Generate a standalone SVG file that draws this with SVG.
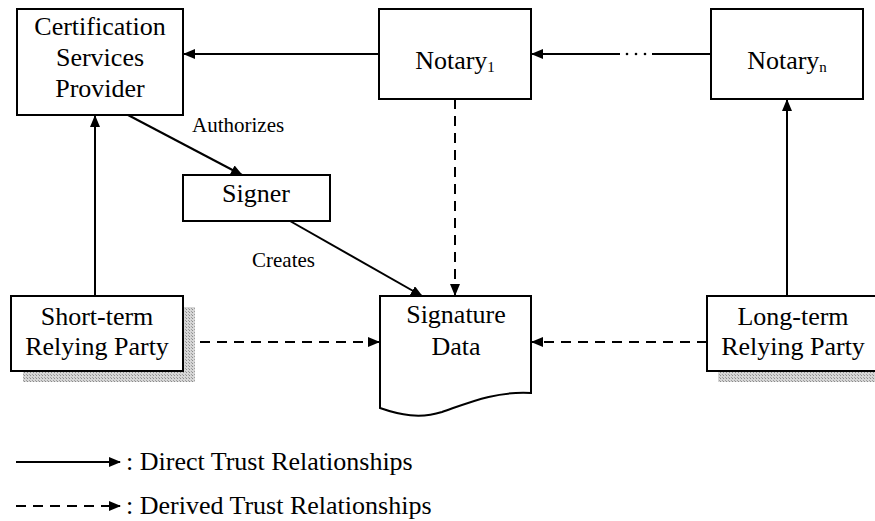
<svg xmlns="http://www.w3.org/2000/svg" width="875" height="521" viewBox="0 0 875 521" font-family="'Liberation Serif','Times New Roman',serif">
<style>
.box{fill:#fff;stroke:#000;stroke-width:2}
.nt{font-family:"Liberation Serif","Times New Roman",serif;font-size:26px;fill:#000;text-anchor:middle}
.lbl{font-family:"Liberation Serif","Times New Roman",serif;font-size:21px;fill:#000}
.leg{font-family:"Liberation Serif","Times New Roman",serif;font-size:26px;fill:#000}
.sub{font-size:15px}
.c{fill:none;stroke:#000;stroke-width:2}
.d{stroke-dasharray:10 7}
.shadow{fill:url(#half)}
</style>
<defs>
<marker id="ah" markerWidth="12" markerHeight="10" refX="11" refY="5" orient="auto" markerUnits="userSpaceOnUse"><path d="M0,0 L12,5 L0,10 z" fill="#000"/></marker>
<pattern id="half" width="3" height="3" patternUnits="userSpaceOnUse"><rect width="3" height="3" fill="#d6d6d6"/><rect width="1" height="1" fill="#8a8a8a"/><rect x="2" y="2" width="1" height="1" fill="#a0a0a0"/></pattern>
</defs>
<rect width="875" height="521" fill="#fff"/>
<g id="connectors">
<path class="c" d="M379,54 H184" marker-end="url(#ah)"/>
<path class="c" d="M711,54 H652 M620,54 H532" marker-end="url(#ah)"/>
<circle cx="627" cy="54" r="1.3"/><circle cx="636" cy="54" r="1.3"/><circle cx="645" cy="54" r="1.3"/>
<path class="c" d="M95,296 V116" marker-end="url(#ah)"/>
<path class="c" d="M787,296 V100" marker-end="url(#ah)"/>
<path class="c" d="M128,115 L242,175" marker-end="url(#ah)"/>
<path class="c" d="M290,221 L422,296" marker-end="url(#ah)"/>
<path class="c d" d="M455,99 V295" marker-end="url(#ah)"/>
<path class="c d" d="M183,342 H379" marker-end="url(#ah)"/>
<path class="c d" d="M707,342 H532" marker-end="url(#ah)"/>
</g>
<g id="csp">
<rect class="box" x="17" y="9" width="166" height="106"/>
<text class="nt" font-family="'Liberation Serif',serif" x="100" y="35">Certification</text>
<text class="nt" font-family="'Liberation Serif',serif" x="100" y="66">Services</text>
<text class="nt" font-family="'Liberation Serif',serif" x="100" y="97">Provider</text>
</g>
<g id="notary1">
<rect class="box" x="379" y="9" width="152" height="90"/>
<text class="nt" font-family="'Liberation Serif',serif" x="455" y="69">Notary<tspan class="sub" dy="3">1</tspan></text>
</g>
<g id="notaryn">
<rect class="box" x="711" y="9" width="152" height="90"/>
<text class="nt" font-family="'Liberation Serif',serif" x="787" y="69">Notary<tspan class="sub" dy="3">n</tspan></text>
</g>
<g id="signer">
<rect class="box" x="183" y="175" width="147" height="46"/>
<text class="nt" font-family="'Liberation Serif',serif" x="256" y="202">Signer</text>
</g>
<g id="shortrp">
<rect class="shadow" x="23" y="307" width="172" height="75"/>
<rect class="box" x="11" y="296" width="172" height="75"/>
<text class="nt" font-family="'Liberation Serif',serif" x="97" y="325">Short-term</text>
<text class="nt" font-family="'Liberation Serif',serif" x="97" y="355">Relying Party</text>
</g>
<g id="signature">
<path class="box" d="M380,296 H531 V393 C495,391 468,403 442,412 C420,419 400,415 380,408 Z"/>
<text class="nt" font-family="'Liberation Serif',serif" x="456" y="323">Signature</text>
<text class="nt" font-family="'Liberation Serif',serif" x="456" y="355">Data</text>
</g>
<g id="longrp">
<rect class="shadow" x="718" y="307" width="172" height="75"/>
<rect class="box" x="707" y="296" width="172" height="75"/>
<text class="nt" font-family="'Liberation Serif',serif" x="793" y="325">Long-term</text>
<text class="nt" font-family="'Liberation Serif',serif" x="793" y="355">Relying Party</text>
</g>
<g id="labels">
<text class="lbl" x="192" y="132">Authorizes</text>
<text class="lbl" x="252" y="267">Creates</text>
</g>
<g id="legend">
<path class="c" d="M16,462 H120" marker-end="url(#ah)"/>
<path class="c d" d="M16,506 H120" marker-end="url(#ah)"/>
<text class="leg" x="126" y="470">: Direct Trust Relationships</text>
<text class="leg" x="126" y="514">: Derived Trust Relationships</text>
</g>
</svg>
